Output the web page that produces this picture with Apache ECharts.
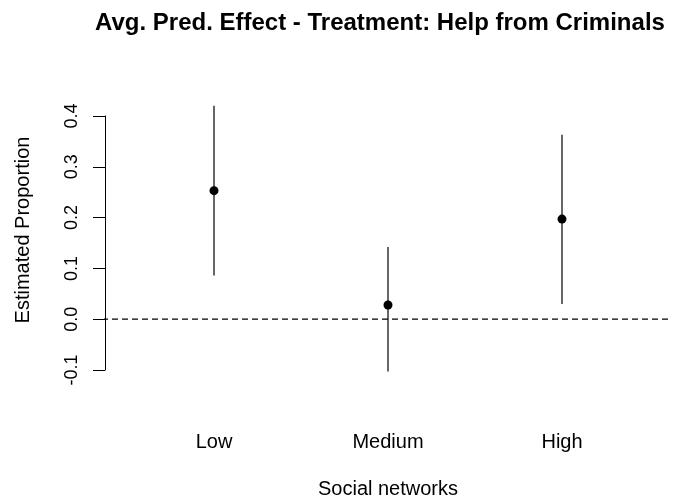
<!DOCTYPE html>
<html>
<head>
<meta charset="utf-8">
<script src="https://cdn.jsdelivr.net/npm/echarts@6/dist/echarts.min.js"></script>
<style>
html,body{margin:0;padding:0;background:#fff;}
#chart{width:680px;height:499px;}
</style>
</head>
<body>
<div id="chart"></div>
<script>
var categories = ['Low', 'Medium', 'High'];
var estimate = [0.253, 0.028, 0.197];
var lower = [0.086, -0.103, 0.030];
var upper = [0.420, 0.142, 0.363];
var yTicks = [-0.1, 0.0, 0.1, 0.2, 0.3, 0.4];
var refLine = [[-0.023, 0], [1, 0]];

var font = 'Liberation Sans, Arial, sans-serif';
var chart = echarts.init(document.getElementById('chart'), null, {renderer: 'canvas'});

var whiskerData = categories.map(function (c, i) { return [i, lower[i], upper[i]]; });
var pointData = categories.map(function (c, i) { return [i, estimate[i]]; });

chart.setOption({
  animation: false,
  backgroundColor: '#fff',
  title: {
    text: 'Avg. Pred. Effect - Treatment: Help from Criminals',
    left: 95, top: 11, padding: 0,
    textStyle: {fontFamily: font, fontSize: 24, fontWeight: 'bold', color: '#000'}
  },
  grid: [
    {left: 105, right: 10, top: 116, height: 254, containLabel: false, outerBoundsMode: 'none'},
    {left: 127, width: 522, top: 116, height: 254, containLabel: false, outerBoundsMode: 'none'}
  ],
  xAxis: [
    {type: 'value', gridIndex: 0, min: 0, max: 1, show: false},
    {type: 'category', gridIndex: 1, data: categories, boundaryGap: true,
     axisLine: {show: false}, axisTick: {show: false},
     axisLabel: {fontFamily: font, fontSize: 20, color: '#000', margin: 62},
     name: 'Social networks', nameLocation: 'middle', nameGap: 109,
     nameTextStyle: {fontFamily: font, fontSize: 20, color: '#000'}}
  ],
  yAxis: [
    {type: 'value', gridIndex: 0, min: yTicks[0], max: yTicks[yTicks.length - 1], interval: 0.1,
     axisLine: {show: true, lineStyle: {color: '#000', width: 1}},
     axisTick: {show: true, length: 12, inside: false, lineStyle: {color: '#000', width: 1}},
     splitLine: {show: false},
     axisLabel: {rotate: 90, fontFamily: font, fontSize: 18, color: '#000', margin: 24,
       formatter: function (v) { return (Math.round(v * 10) / 10).toFixed(1); }}
    },
    {type: 'value', gridIndex: 1, min: yTicks[0], max: yTicks[yTicks.length - 1], interval: 0.1, show: false}
  ],
  graphic: [
    {type: 'text', rotation: Math.PI / 2, x: 23, y: 230,
     style: {text: 'Estimated Proportion', font: '20px ' + font, fill: '#000',
       textAlign: 'center', textVerticalAlign: 'middle'}}
  ],
  series: [
    {type: 'line', xAxisIndex: 0, yAxisIndex: 0, data: refLine, symbol: 'none', clip: false,
     lineStyle: {color: '#000', width: 1.2, type: [6, 4]}, silent: true},
    {type: 'custom', xAxisIndex: 1, yAxisIndex: 1, data: whiskerData, clip: false,
     renderItem: function (params, api) {
       var p1 = api.coord([api.value(0), api.value(1)]);
       var p2 = api.coord([api.value(0), api.value(2)]);
       return {type: 'line', shape: {x1: p1[0], y1: p1[1], x2: p2[0], y2: p2[1]},
               style: {stroke: '#333', lineWidth: 1.5}};
     }},
    {type: 'scatter', xAxisIndex: 1, yAxisIndex: 1, data: pointData, symbol: 'circle', symbolSize: 9,
     itemStyle: {color: '#000', opacity: 1}, z: 5}
  ]
});
</script>
</body>
</html>
